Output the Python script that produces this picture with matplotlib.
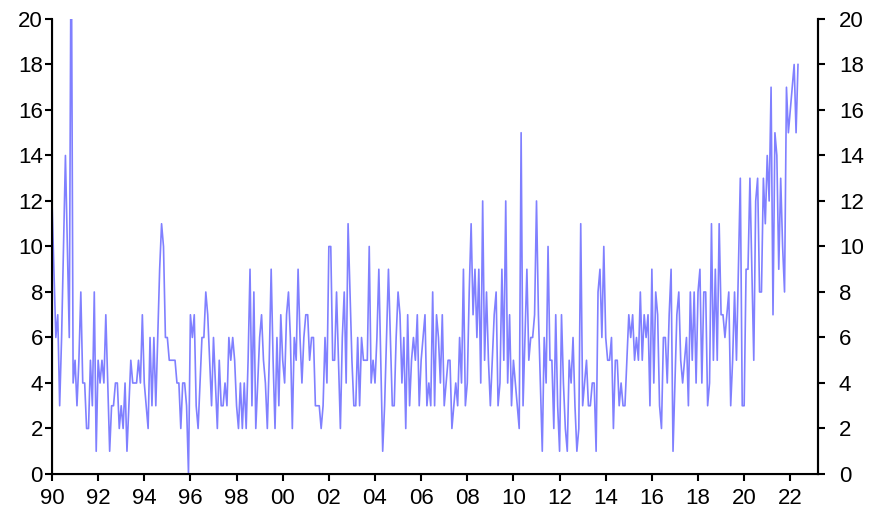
import numpy as np
import matplotlib
matplotlib.use("Agg")
import matplotlib.pyplot as plt

# monthly values, Jan 1990 onwards
vals_1990s = [
    12, 9, 6, 7, 3, 6, 10, 14, 10, 6, 25, 4,
    5, 3, 5, 8, 4, 4, 2, 2, 5, 3, 8, 1,
    5, 4, 5, 4, 7, 4, 1, 3, 3, 4, 4, 2,
    3, 2, 4, 1, 3, 5, 4, 4, 4, 5, 4, 7,
    4, 3, 2, 6, 3, 6, 3, 6, 9, 11, 10, 6,
    6, 5, 5, 5, 5, 4, 4, 2, 4, 4, 3, 0,
    7, 6, 7, 3, 2, 4, 6, 6, 8, 7, 5, 3,
    6, 4, 2, 5, 3, 3, 4, 3, 6, 5, 6, 5,
    3, 2, 4, 2, 4, 2, 5, 9, 3, 8, 2, 4,
    6, 7, 5, 4, 2, 5, 9, 5, 2, 6, 3, 7,
]
vals_2000s = [
    5, 4, 7, 8, 6, 2, 6, 5, 9, 6, 4, 6,
    7, 7, 5, 6, 6, 3, 3, 3, 2, 3, 6, 4,
    10, 10, 5, 5, 8, 5, 2, 6, 8, 4, 11, 8,
    5, 3, 3, 6, 3, 6, 5, 5, 5, 10, 4, 5,
    4, 6, 9, 5, 1, 3, 6, 9, 6, 3, 3, 6,
    8, 7, 4, 6, 2, 7, 3, 5, 6, 5, 7, 3,
    5, 6, 7, 3, 4, 3, 8, 3, 7, 6, 4, 7,
    3, 4, 5, 5, 2, 3, 4, 3, 6, 4, 9, 3,
    4, 8, 11, 7, 9, 6, 9, 4, 12, 5, 8, 5,
    3, 5, 7, 8, 3, 4, 9, 5, 12, 4, 7, 3,
]
vals_2010s = [
    5, 4, 3, 2, 15, 3, 6, 9, 5, 6, 6, 7,
    12, 7, 4, 1, 6, 4, 10, 5, 5, 2, 7, 3,
    1, 7, 4, 2, 1, 5, 4, 6, 3, 1, 2, 11,
    3, 4, 5, 3, 3, 4, 4, 1, 8, 9, 6, 10,
    6, 5, 5, 6, 2, 5, 5, 3, 4, 3, 3, 5,
    7, 6, 7, 5, 6, 5, 8, 5, 7, 6, 7, 3,
    9, 4, 8, 7, 3, 2, 6, 6, 4, 7, 9, 1,
    4, 7, 8, 5, 4, 5, 6, 3, 8, 5, 8, 4,
    8, 9, 4, 8, 8, 3, 4, 11, 5, 9, 5, 11,
    7, 7, 6, 7, 8, 3, 5, 8, 5, 9, 13, 3,
]
vals_2020s = [
    3, 9, 9, 13, 9, 5, 12, 13, 8, 8, 13, 11,
    14, 12, 17, 7, 15, 14, 9, 13, 10, 8, 17, 15,
    16, 17, 18, 15, 18,
]

vals = vals_1990s + vals_2000s + vals_2010s + vals_2020s
x = 1990 + np.arange(len(vals)) / 12.0

year_ticks = list(range(1990, 2023, 2))
year_labels = ["{:02d}".format(y % 100) for y in year_ticks]
y_ticks = list(range(0, 21, 2))

plt.rcParams['font.family'] = ['Liberation Sans', 'DejaVu Sans']

fig = plt.figure(figsize=(8.87, 5.16), dpi=100)
ax = fig.add_axes([0.0586, 0.0814, 0.8636, 0.8818])
ax.plot(x, vals, color="#8080ff", lw=1.2)

ax.set_xlim(1990, 2023.2)
ax.set_ylim(0, 20)
ax.set_xticks(year_ticks, year_labels)
ax.set_yticks(y_ticks)
ax.spines['top'].set_visible(False)
for s in ['left', 'right', 'bottom']:
    ax.spines[s].set_linewidth(1.5)
ax.tick_params(axis='both', direction='out', length=5, width=1.5, labelsize=16)
ax.tick_params(axis='y', pad=1.5)
ax.tick_params(axis='x', pad=5)

ax2 = ax.twinx()
ax2.set_ylim(0, 20)
ax2.set_yticks(y_ticks)
ax2.spines['top'].set_visible(False)
ax2.spines['right'].set_linewidth(1.5)
ax2.tick_params(axis='y', direction='out', length=5, width=1.5, labelsize=16, pad=10)

fig.savefig("out.png", dpi=100)
